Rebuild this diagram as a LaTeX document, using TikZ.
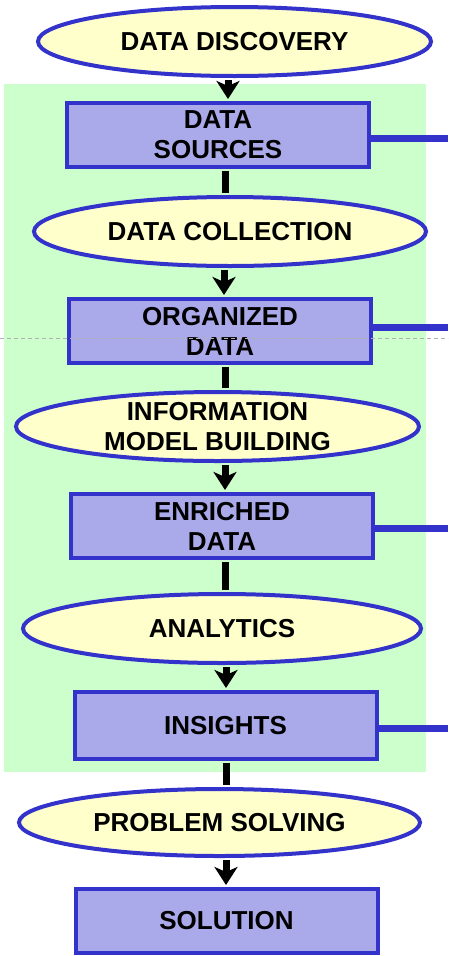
\documentclass[tikz,border=0pt]{standalone}
\usepackage{fontspec}
\setmainfont{Liberation Sans}
\usetikzlibrary{shapes.geometric,arrows.meta}
\definecolor{bl}{HTML}{3333CC}
\definecolor{yel}{HTML}{FFFFCC}
\definecolor{boxf}{HTML}{AAAAEA}
\definecolor{grn}{HTML}{CCFFCC}
\begin{document}
\begin{tikzpicture}[x=1pt,y=-1pt,
 txt/.style={font=\fontsize{26}{30}\selectfont\bfseries, align=center},
 ell/.style={ellipse, draw=bl, fill=yel, line width=4pt, inner sep=0pt},
 stepbox/.style={rectangle, draw=bl, fill=boxf, line width=4pt, minimum width=302pt, minimum height=64pt, inner sep=0pt, txt},
 flow/.style={line width=7pt, draw=black, shorten <=2pt},
 arr/.style={flow, shorten >=2pt, -{Stealth[length=18pt,width=23pt,inset=5pt]}},
 side/.style={draw=bl, line width=7pt}]
\useasboundingbox (0,0) rectangle (448,956);
\fill[white] (0,0) rectangle (448,956);
\fill[grn] (4,84) rectangle (426,772);

\node[ell, minimum width=393pt, minimum height=69pt, label={[txt]center:DATA DISCOVERY}] (dd) at (234.5,41.5) {};
\node[stepbox] (ds) at (218,135) {DATA\\SOURCES};
\node[ell, minimum width=392pt, minimum height=69pt, label={[txt]center:DATA COLLECTION}] (dc) at (230,231.5) {};
\node[stepbox] (od) at (220,331) {ORGANIZED\\DATA};
\node[ell, minimum width=403pt, minimum height=69pt, label={[txt]center:INFORMATION\\MODEL BUILDING}] (imb) at (217.5,426.5) {};
\node[stepbox] (ed) at (222,526) {ENRICHED\\DATA};
\node[ell, minimum width=398pt, minimum height=69pt, label={[txt]center:ANALYTICS}] (an) at (222,628.5) {};
\node[stepbox, minimum height=67pt] (ins) at (225.5,725.5) {INSIGHTS};
\node[ell, minimum width=401pt, minimum height=67pt, label={[txt]center:PROBLEM SOLVING}] (ps) at (219.5,822.5) {};
\node[stepbox] (sol) at (226.5,921) {SOLUTION};

\draw[arr] (228,0 |- dd.south) -- (228,0 |- ds.north);
\draw[flow, shorten >=2pt] (225,0 |- ds.south) -- (225,0 |- dc.north);
\draw[arr] (224,0 |- dc.south) -- (224,0 |- od.north);
\draw[flow, shorten >=2pt] (225,0 |- od.south) -- (225,0 |- imb.north);
\draw[arr] (225,0 |- imb.south) -- (225,0 |- ed.north);
\draw[flow, shorten >=2pt] (225,0 |- ed.south) -- (225,0 |- an.north);
\draw[arr] (226,0 |- an.south) -- (226,0 |- ins.north);
\draw[flow, shorten >=2pt] (226,0 |- ins.south) -- (226,0 |- ps.north);
\draw[arr] (226,0 |- ps.south) -- (226,0 |- sol.north);

\coordinate (e1) at (448,138);
\coordinate (e2) at (448,327);
\coordinate (e3) at (448,528);
\coordinate (e4) at (448,728);
\draw[side] (ds.east |- e1) -- (e1);
\draw[side] (od.east |- e2) -- (e2);
\draw[side] (ed.east |- e3) -- (e3);
\draw[side] (ins.east |- e4) -- (e4);

\draw[draw=gray!60, dash pattern=on 4pt off 3pt, line width=0.8pt] (0,338) -- (448,338);
\end{tikzpicture}
\end{document}
